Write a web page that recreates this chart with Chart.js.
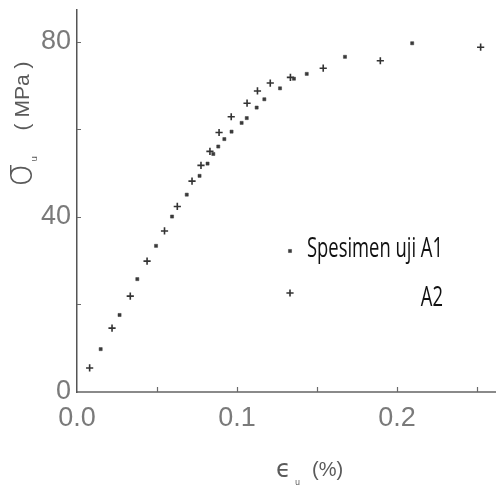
<!DOCTYPE html>
<html>
<head>
<meta charset="utf-8">
<script src="https://cdn.jsdelivr.net/npm/chart.js@4/dist/chart.umd.min.js"></script>
<style>
  html, body { margin: 0; padding: 0; background: #fff; }
  #wrap { width: 496px; height: 485px; }
</style>
</head>
<body>
<div id="wrap"><canvas id="stress-strain"></canvas></div>
<script>
// strain (%) and stress (MPa) readings for each specimen
const strainA1 = [0.0148, 0.0266, 0.0377, 0.0494, 0.0594, 0.0686, 0.0766, 0.0816, 0.0852, 0.0883,
                  0.0921, 0.0966, 0.1029, 0.1061, 0.1123, 0.1171, 0.1269, 0.1356, 0.1436, 0.1675, 0.2095];
const stressA1 = [9.8, 17.6, 25.8, 33.4, 40.1, 45.1, 49.4, 52.2, 54.4, 56.1,
                  57.8, 59.5, 61.5, 62.6, 65.0, 66.9, 69.4, 71.6, 72.7, 76.6, 79.7];
const strainA2 = [0.0079, 0.0219, 0.0333, 0.0438, 0.0547, 0.0627, 0.0719, 0.0775, 0.0831, 0.0888,
                  0.0964, 0.1063, 0.1128, 0.1208, 0.1334, 0.1539, 0.1896, 0.2523];
const stressA2 = [5.5, 14.6, 21.9, 29.9, 36.8, 42.4, 48.2, 51.8, 55.0, 59.3,
                  62.9, 66.0, 68.8, 70.6, 71.9, 74.0, 75.7, 78.8];
const xLabels = [0.0, 0.1, 0.2];
const yLabels = [0, 40, 80];
const seriesNames = ['Spesimen uji A1', 'A2'];

const toPoints = (xs, ys) => xs.map((v, i) => ({ x: v, y: ys[i] }));

// inward tick marks, axis titles and the legend block
const decor = {
  id: 'decor',
  afterDraw(chart) {
    const { ctx, chartArea: a } = chart;
    const x = chart.scales.x, y = chart.scales.y;
    ctx.save();
    ctx.strokeStyle = '#6a6a6a';
    ctx.lineWidth = 1.2;
    ctx.beginPath();
    y.ticks.forEach(t => {
      if (t.value === 0) return;
      const py = Math.round(y.getPixelForValue(t.value)) + 0.5;
      ctx.moveTo(a.left, py); ctx.lineTo(a.left + 4, py);
    });
    x.ticks.forEach(t => {
      if (t.value === 0) return;
      const px = Math.round(x.getPixelForValue(t.value)) + 0.5;
      ctx.moveTo(px, a.bottom); ctx.lineTo(px, a.bottom - 5);
    });
    ctx.stroke();

    // y title
    ctx.fillStyle = '#5a5a5a';
    ctx.save();
    ctx.translate(31, 175);
    ctx.rotate(-Math.PI / 2);
    ctx.textBaseline = 'alphabetic';
    ctx.textAlign = 'center';
    ctx.font = '200 38px "DejaVu Sans"';
    ctx.fillText('σ', 0, 0);
    ctx.font = '9px "DejaVu Sans"';
    ctx.fillText('u', 16, 6);
    ctx.font = '21px "Liberation Sans"';
    ctx.fillText('( MPa )', 79, -2);
    ctx.restore();

    // x title
    ctx.textBaseline = 'alphabetic';
    ctx.textAlign = 'left';
    ctx.font = '24px "DejaVu Sans"';
    ctx.fillText('ϵ', 276, 477);
    ctx.font = '8px "DejaVu Sans"';
    ctx.fillText('u', 295, 485);
    ctx.font = '20px "Liberation Sans"';
    ctx.fillText('(%)', 312, 476);

    // legend: markers on the left, labels flush right and narrowed
    const ds = chart.data.datasets;
    const markY = [251, 293];
    const baseY = [257, 306];
    ctx.font = '28px "Open Sans", sans-serif';
    const sx = 136 / ctx.measureText(ds[0].label).width;
    ds.forEach((d, i) => {
      const opts = { pointStyle: d.pointStyle, radius: d.pointRadius, rotation: 0,
                     borderWidth: d.borderWidth };
      ctx.fillStyle = d.backgroundColor;
      ctx.strokeStyle = d.borderColor;
      ctx.lineWidth = d.borderWidth;
      Chart.helpers.drawPoint(ctx, opts, 290, markY[i]);
      ctx.save();
      ctx.translate(443, baseY[i]);
      ctx.scale(sx, 1);
      ctx.fillStyle = '#111';
      ctx.textAlign = 'right';
      ctx.textBaseline = 'alphabetic';
      ctx.fillText(d.label, 0, 0);
      ctx.restore();
    });
    ctx.restore();
  }
};

new Chart(document.getElementById('stress-strain'), {
  type: 'scatter',
  data: {
    datasets: [
      {
        label: seriesNames[0],
        data: toPoints(strainA1, stressA1),
        pointStyle: 'rect',
        pointRadius: 2.2,
        borderWidth: 0.5,
        borderColor: '#3a3a3a',
        backgroundColor: '#3a3a3a'
      },
      {
        label: seriesNames[1],
        data: toPoints(strainA2, stressA2),
        pointStyle: 'cross',
        pointRadius: 3.6,
        borderWidth: 1.6,
        borderColor: '#333',
        backgroundColor: '#333'
      }
    ]
  },
  options: {
    responsive: true,
    maintainAspectRatio: false,
    animation: false,
    events: [],
    layout: { autoPadding: false, padding: { top: 10, right: 0, left: 0, bottom: 0 } },
    plugins: { legend: { display: false }, tooltip: { enabled: false } },
    scales: {
      x: {
        type: 'linear',
        min: 0,
        max: 0.2619,
        afterFit: s => { s.height = 93; s.paddingLeft = 0; s.paddingRight = 0; },
        grid: { display: false, drawTicks: false },
        border: { display: true, color: '#8a8a8a', width: 2 },
        ticks: {
          stepSize: 0.05,
          includeBounds: false,
          padding: 10,
          maxRotation: 0,
          autoSkip: false,
          color: '#7a7a7a',
          font: { family: 'Liberation Sans', size: 27 },
          callback: v => xLabels.some(l => Math.abs(l - v) < 1e-6) ? v.toFixed(1) : ''
        }
      },
      y: {
        min: 0,
        max: 87.3,
        afterFit: s => { s.width = 77; s.paddingTop = 0; s.paddingBottom = 0; },
        grid: { display: false, drawTicks: false },
        border: { display: true, color: '#555', width: 1.5 },
        ticks: {
          stepSize: 20,
          includeBounds: false,
          padding: 6,
          autoSkip: false,
          color: '#7a7a7a',
          font: { family: 'Liberation Sans', size: 27 },
          callback: v => yLabels.includes(v) ? String(v) : ''
        }
      }
    }
  },
  plugins: [decor]
});
</script>
</body>
</html>
